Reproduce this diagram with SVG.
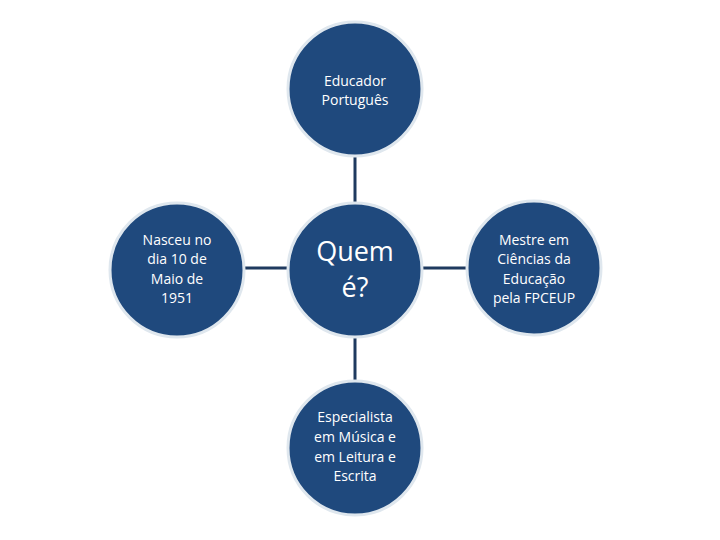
<svg xmlns="http://www.w3.org/2000/svg" width="720" height="540" viewBox="0 0 720 540">
<style>
.n{fill:#1f497d;stroke:#dfe7ee;stroke-width:3}
.t{fill:#ffffff;font-family:"Open Sans","Liberation Sans",sans-serif;font-size:14px;text-anchor:middle}
.b{font-size:27px}
.c{stroke:#1f3a5f;stroke-width:3;fill:none}
</style>
<rect width="720" height="540" fill="#ffffff"/>
<g id="connectors">
<line class="c" x1="355" y1="155" x2="355" y2="204"/>
<line class="c" x1="355" y1="337" x2="355" y2="382"/>
<line class="c" x1="245" y1="268" x2="289" y2="268"/>
<line class="c" x1="422" y1="268" x2="468" y2="268"/>
</g>
<g id="top">
<circle class="n" cx="355" cy="89" r="67"/>
<text class="t" x="355" y="86">Educador</text>
<text class="t" x="355" y="105">Português</text>
</g>
<g id="center">
<circle class="n" cx="355" cy="270" r="67"/>
<text class="t b" x="355" y="261">Quem</text>
<text class="t b" x="355" y="297">é?</text>
</g>
<g id="left">
<circle class="n" cx="177" cy="270" r="67"/>
<text class="t" x="177" y="245">Nasceu no</text>
<text class="t" x="177" y="264">dia 10 de</text>
<text class="t" x="177" y="284">Maio de</text>
<text class="t" x="177" y="303">1951</text>
</g>
<g id="right">
<circle class="n" cx="534" cy="268" r="67"/>
<text class="t" x="534" y="245">Mestre em</text>
<text class="t" x="534" y="264">Ciências da</text>
<text class="t" x="534" y="284">Educação</text>
<text class="t" x="534" y="303">pela FPCEUP</text>
</g>
<g id="bottom">
<circle class="n" cx="355" cy="448" r="67"/>
<text class="t" x="355" y="422">Especialista</text>
<text class="t" x="355" y="442">em Música e</text>
<text class="t" x="355" y="462">em Leitura e</text>
<text class="t" x="355" y="481">Escrita</text>
</g>
</svg>
